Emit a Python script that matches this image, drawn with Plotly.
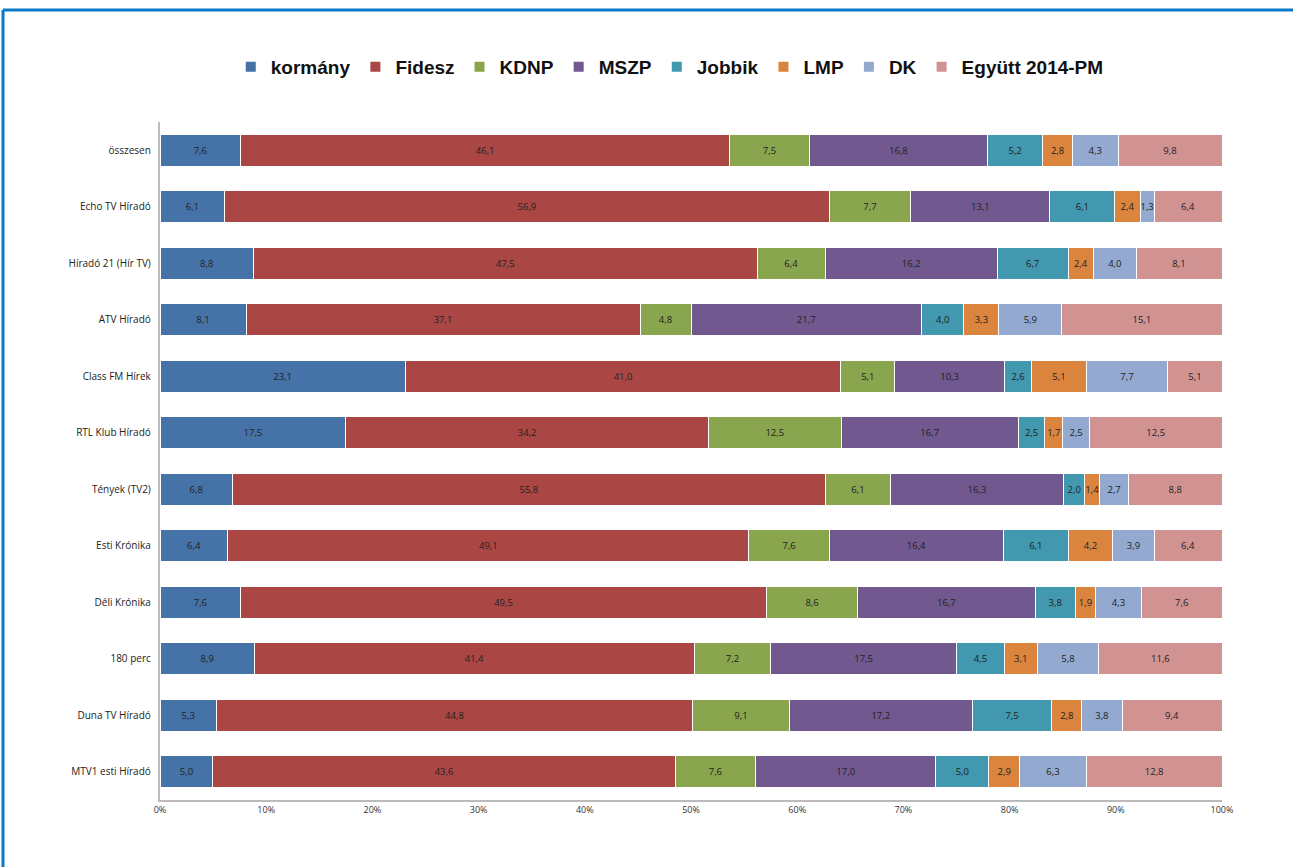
import plotly.graph_objects as go

categories = ["összesen", "Echo TV Híradó", "Híradó 21 (Hír TV)", "ATV Híradó", "Class FM Hírek",
              "RTL Klub Híradó", "Tények (TV2)", "Esti Krónika", "Déli Krónika", "180 perc",
              "Duna TV Híradó", "MTV1 esti Híradó"]

series_names = ["kormány", "Fidesz", "KDNP", "MSZP", "Jobbik", "LMP", "DK", "Együtt 2014-PM"]

kormany = [7.6, 6.1, 8.8, 8.1, 23.1, 17.5, 6.8, 6.4, 7.6, 8.9, 5.3, 5.0]
fidesz = [46.1, 56.9, 47.5, 37.1, 41.0, 34.2, 55.8, 49.1, 49.5, 41.4, 44.8, 43.6]
kdnp = [7.5, 7.7, 6.4, 4.8, 5.1, 12.5, 6.1, 7.6, 8.6, 7.2, 9.1, 7.6]
mszp = [16.8, 13.1, 16.2, 21.7, 10.3, 16.7, 16.3, 16.4, 16.7, 17.5, 17.2, 17.0]
jobbik = [5.2, 6.1, 6.7, 4.0, 2.6, 2.5, 2.0, 6.1, 3.8, 4.5, 7.5, 5.0]
lmp = [2.8, 2.4, 2.4, 3.3, 5.1, 1.7, 1.4, 4.2, 1.9, 3.1, 2.8, 2.9]
dk = [4.3, 1.3, 4.0, 5.9, 7.7, 2.5, 2.7, 3.9, 4.3, 5.8, 3.8, 6.3]
egyutt = [9.8, 6.4, 8.1, 15.1, 5.1, 12.5, 8.8, 6.4, 7.6, 11.6, 9.4, 12.8]

x_tick_vals = [0, 10, 20, 30, 40, 50, 60, 70, 80, 90, 100]
x_tick_text = ["0%", "10%", "20%", "30%", "40%", "50%", "60%", "70%", "80%", "90%", "100%"]

colors = ["#4572A7", "#AA4643", "#89A54E", "#71588F", "#4198AF", "#DB843D", "#93A9CF", "#D19392"]
all_values = [kormany, fidesz, kdnp, mszp, jobbik, lmp, dk, egyutt]

fig = go.Figure()
for name, vals, col in zip(series_names, all_values, colors):
    fig.add_trace(go.Bar(
        y=categories, x=vals, name=name, orientation="h",
        marker=dict(color=col, line=dict(color="white", width=1)),
        text=[f"{v:.1f}".replace(".", ",") for v in vals],
        textposition="inside", insidetextanchor="middle", textangle=0,
        insidetextfont=dict(family="Open Sans", size=9.5, color="#222222"),
        hoverinfo="skip",
    ))

fig.update_layout(
    barmode="stack", barnorm="percent", bargap=0.43,
    width=1293, height=867,
    margin=dict(l=160, r=71, t=122, b=67),
    paper_bgcolor="white", plot_bgcolor="white",
    uniformtext=dict(minsize=9, mode="show"),
    legend=dict(orientation="h", x=0.48, xanchor="center", y=1 + 55/678, yanchor="middle",
                font=dict(family="Liberation Sans", size=19, color="#111111", weight="bold"),
                itemsizing="constant", traceorder="normal"),
    xaxis=dict(range=[0, 100], tickvals=x_tick_vals, ticktext=x_tick_text,
               showgrid=False, zeroline=False, showline=True, linecolor="#BBBBBB", linewidth=2,
               ticks="", tickfont=dict(family="Open Sans", size=9, color="#333333"),
               fixedrange=True),
    yaxis=dict(autorange="reversed", showgrid=False, showline=True, linecolor="#BBBBBB", linewidth=2,
               ticks="", ticksuffix="  ", tickfont=dict(family="Open Sans", size=10, color="#222222"),
               fixedrange=True),
    shapes=[
        dict(type="line", xref="paper", yref="paper",
             x0=-157/1062, x1=1.1, y0=1 + 112/678, y1=1 + 112/678,
             line=dict(color="#0A78C8", width=3)),
        dict(type="line", xref="paper", yref="paper",
             x0=-157/1062, x1=-157/1062, y0=1 + 112/678, y1=-0.2,
             line=dict(color="#0A78C8", width=3)),
    ],
)

fig.write_html("out.html", config={"displayModeBar": False},
               post_script="document.body.style.margin='0';")
